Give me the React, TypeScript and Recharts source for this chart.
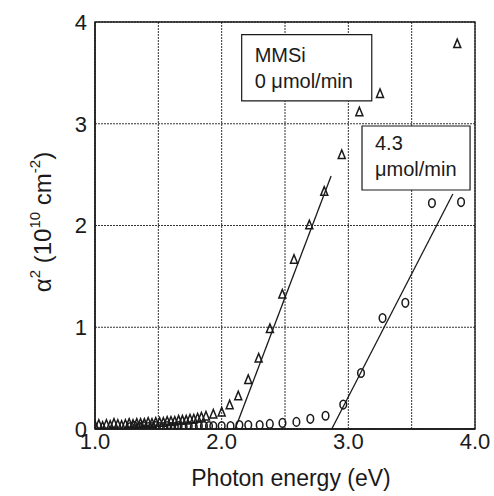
import React from 'react';
import { ScatterChart, Scatter, XAxis, YAxis, CartesianGrid, ReferenceLine, ReferenceArea } from 'recharts';

// MMSi 0 µmol/min (triangles)
const triEnergy = [1.0, 1.03, 1.06, 1.09, 1.12, 1.15, 1.18, 1.21, 1.24, 1.27, 1.3, 1.33, 1.36, 1.39, 1.42, 1.45, 1.48, 1.51, 1.54, 1.57, 1.6, 1.63, 1.66, 1.69, 1.72, 1.75, 1.78, 1.81, 1.84, 1.876, 1.934, 2.0, 2.063, 2.131, 2.21, 2.292, 2.381, 2.479, 2.571, 2.692, 2.81, 2.948, 3.087, 3.25, 3.86];
const triAlpha2 = [0.04, 0.05, 0.03, 0.05, 0.04, 0.06, 0.05, 0.04, 0.05, 0.06, 0.05, 0.06, 0.06, 0.06, 0.07, 0.06, 0.07, 0.07, 0.07, 0.08, 0.08, 0.08, 0.09, 0.09, 0.09, 0.1, 0.1, 0.11, 0.12, 0.13, 0.15, 0.17, 0.24, 0.33, 0.49, 0.7, 0.99, 1.33, 1.67, 2.01, 2.34, 2.7, 3.12, 3.3, 3.79];

// MMSi 4.3 µmol/min (circles)
const circEnergy = [1.28, 1.31, 1.35, 1.38, 1.42, 1.45, 1.48, 1.51, 1.54, 1.57, 1.6, 1.63, 1.66, 1.7, 1.74, 1.78, 1.82, 1.86, 1.9, 1.934, 2.0, 2.07, 2.14, 2.21, 2.3, 2.38, 2.48, 2.59, 2.7, 2.82, 2.96, 3.1, 3.27, 3.45, 3.66, 3.89];
const circAlpha2 = [0.02, 0.03, 0.02, 0.03, 0.02, 0.02, 0.03, 0.02, 0.02, 0.03, 0.02, 0.02, 0.03, 0.02, 0.03, 0.02, 0.03, 0.03, 0.03, 0.03, 0.03, 0.03, 0.04, 0.04, 0.04, 0.05, 0.06, 0.07, 0.1, 0.13, 0.24, 0.55, 1.09, 1.24, 2.22, 2.23];

// linear fits (Tauc extrapolation)
const fit0Energy = [2.106, 2.864];
const fit0Alpha2 = [0, 2.487];
const fit43Energy = [2.869, 3.825];
const fit43Alpha2 = [0, 2.31];

const xTicks = [1, 1.5, 2, 2.5, 3, 3.5, 4];
const xTickLabels = ['1.0', '', '2.0', '', '3.0', '', '4.0'];
const yTicks = [0, 1, 2, 3, 4];

const box0Energy = [2.158, 3.185];
const box0Alpha2 = [3.224, 3.875];
const box0Lines = ['MMSi', '0 \u03bcmol/min'];
const box43Energy = [3.108, 3.961];
const box43Alpha2 = [2.349, 2.978];
const box43Lines = ['4.3', '\u03bcmol/min'];

const FONT = '"Liberation Sans", Arial, Helvetica, sans-serif';
const INK = '#1a1a1a';

const triData = triEnergy.map((x, i) => ({ x, y: triAlpha2[i] }));
const circData = circEnergy.map((x, i) => ({ x, y: circAlpha2[i] }));

const Tri = (p: any) => {
  const { cx, cy } = p;
  if (cx == null || cy == null) return null;
  const h = 8.5, w = 7;
  return (
    <polygon
      points={`${cx},${cy - h / 2} ${cx - w / 2},${cy + h / 2} ${cx + w / 2},${cy + h / 2}`}
      fill="none"
      stroke={INK}
      strokeWidth={1.5}
    />
  );
};

const Circ = (p: any) => {
  const { cx, cy } = p;
  if (cx == null || cy == null) return null;
  return <ellipse cx={cx} cy={cy} rx={3.3} ry={4.3} fill="none" stroke={INK} strokeWidth={1.5} />;
};

const boxLabel = (lines: string[], baselines: number[]) => (props: any) => {
  const vb = props.viewBox || {};
  return (
    <g>
      {lines.map((t, i) => (
        <text key={i} x={vb.x + 13} y={vb.y + baselines[i]} fontSize={20} fontFamily={FONT} fill={INK}>
          {t}
        </text>
      ))}
    </g>
  );
};

const YLabel = (props: any) => {
  return (
    <text transform="translate(51,222) rotate(-90)" textAnchor="middle" fontSize={24} fontFamily={FONT} fill={INK}>
      <tspan>{'\u03b1'}</tspan>
      <tspan dy={-11} fontSize={15}>2</tspan>
      <tspan dy={11}> (10</tspan>
      <tspan dy={-11} fontSize={15}>10</tspan>
      <tspan dy={11}> cm</tspan>
      <tspan dy={-11} fontSize={15}>-2</tspan>
      <tspan dy={11}>)</tspan>
    </text>
  );
};

const XLabel = (props: any) => {
  const vb = props.viewBox || { x: 95, y: 429, width: 380 };
  return (
    <text x={vb.x + vb.width / 2 + 6} y={vb.y + 57} textAnchor="middle" fontSize={23} fontFamily={FONT} fill={INK}>
      Photon energy (eV)
    </text>
  );
};

export default function App() {
  return (
    <div style={{ position: 'absolute', left: 0, top: 0, background: '#fff' }}>
      <ScatterChart width={494} height={496} margin={{ top: 22, right: 19, bottom: 7, left: 0 }}>
        <CartesianGrid stroke="#333" strokeDasharray="2 1" strokeWidth={1} />
        <XAxis
          type="number"
          dataKey="x"
          domain={[1, 4]}
          ticks={xTicks}
          tickFormatter={(v: number) => xTickLabels[xTicks.indexOf(v)] ?? ''}
          tickLine={false}
          tickSize={4}
          tickMargin={0}
          height={60}
          axisLine={{ stroke: INK, strokeWidth: 1.3 }}
          tick={{ fontSize: 22, fontFamily: FONT, fill: INK }}
          label={<XLabel />}
          allowDataOverflow
        />
        <YAxis
          type="number"
          dataKey="y"
          domain={[0, 4]}
          ticks={yTicks}
          tickLine={false}
          tickSize={6}
          tickMargin={2}
          width={95}
          axisLine={{ stroke: INK, strokeWidth: 1.3 }}
          tick={{ fontSize: 22, fontFamily: FONT, fill: INK }}
          label={<YLabel />}
          allowDataOverflow
        />
        <ReferenceArea x1={1} x2={4} y1={0} y2={4} fill="none" stroke={INK} strokeWidth={1.3} />
        <ReferenceArea
          x1={box0Energy[0]}
          x2={box0Energy[1]}
          y1={box0Alpha2[0]}
          y2={box0Alpha2[1]}
          fill="#fff"
          fillOpacity={1}
          stroke={INK}
          strokeWidth={1.2}
          label={boxLabel(box0Lines, [27.6, 53.6])}
        />
        <ReferenceArea
          x1={box43Energy[0]}
          x2={box43Energy[1]}
          y1={box43Alpha2[0]}
          y2={box43Alpha2[1]}
          fill="#fff"
          fillOpacity={1}
          stroke={INK}
          strokeWidth={1.2}
          label={boxLabel(box43Lines, [24, 50])}
        />
        <ReferenceLine
          segment={[
            { x: fit0Energy[0], y: fit0Alpha2[0] },
            { x: fit0Energy[1], y: fit0Alpha2[1] },
          ]}
          stroke={INK}
          strokeWidth={1.3}
        />
        <ReferenceLine
          segment={[
            { x: fit43Energy[0], y: fit43Alpha2[0] },
            { x: fit43Energy[1], y: fit43Alpha2[1] },
          ]}
          stroke={INK}
          strokeWidth={1.3}
        />
        <Scatter data={triData} shape={Tri} isAnimationActive={false} />
        <Scatter data={circData} shape={Circ} isAnimationActive={false} />
      </ScatterChart>
    </div>
  );
}
